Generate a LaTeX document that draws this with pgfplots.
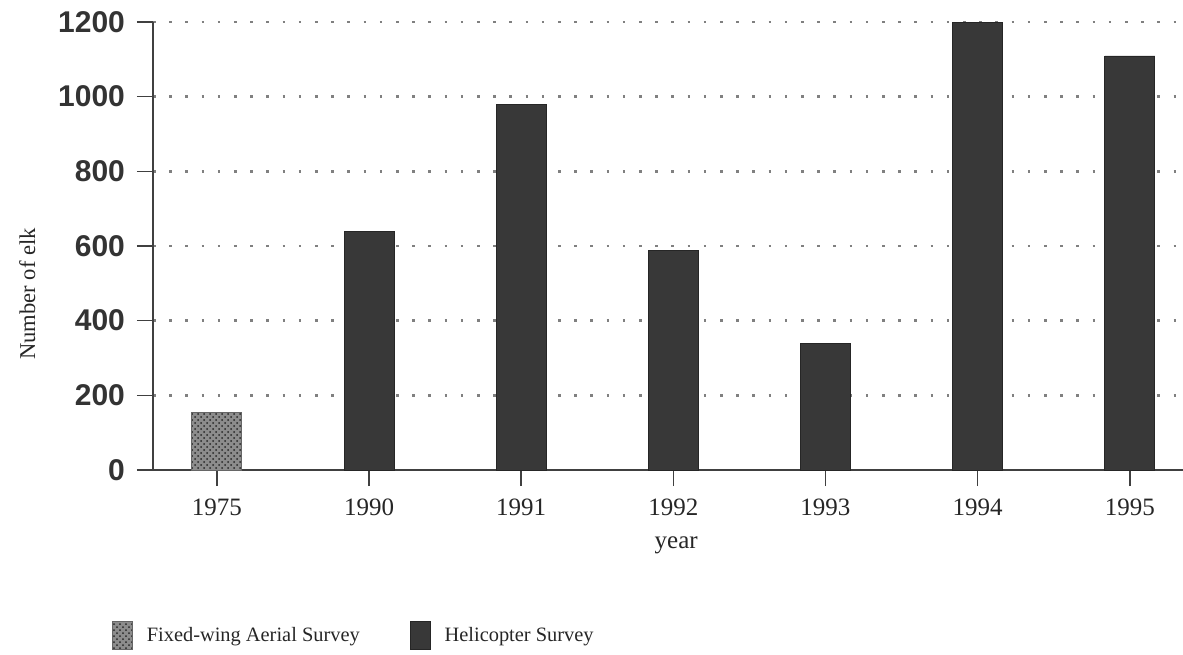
\documentclass[border=0pt]{standalone}
\usepackage{fontspec}
\setmainfont{Liberation Serif}
\newfontfamily\sansfont{Liberation Sans}
\usepackage{pgfplots}
\pgfplotsset{compat=1.18}
\usetikzlibrary{patterns}

\begin{document}
\begin{tikzpicture}
\path[use as bounding box] (-76.5pt,-92pt) rectangle (515pt,235pt);
\begin{axis}[
  scale only axis, width=515pt, height=224pt,
  at={(0,0)}, anchor=south west,
  ybar, bar width=25pt,
  xmin=-0.42, xmax=6.35, ymin=0, ymax=1200,
  xtick={0,...,6},
  xticklabels={1975,1990,1991,1992,1993,1994,1995},
  ytick={0,200,...,1200},
  /pgf/number format/assume math mode=true,
  /pgf/number format/1000 sep={},
  axis x line=bottom, axis y line=left,
  axis line style={-, black!75, line width=1pt},
  tick align=outside, major tick length=8pt,
  tick style={black!75, line width=0.8pt},
  ymajorgrids,
  grid style={black!50, line width=1.3pt, dash pattern=on 1.3pt off 6.8pt},
  yticklabel style={font=\sansfont\bfseries\fontsize{15}{17}\selectfont, text=black!80, xshift=-2.5pt},
  xticklabel style={font=\fontsize{12.5}{14}\selectfont, text=black!85, yshift=-3pt},
  xlabel={year},
  xlabel style={at={(axis description cs:0.508,-0.167)}, anchor=center, font=\fontsize{12.5}{14}\selectfont, text=black!85},
  ylabel={Number of elk},
  ylabel style={at={(axis description cs:-0.122,0.393)}, anchor=center, rotate=0, font=\fontsize{11.3}{13}\selectfont, text=black!85},
  legend style={at={(axis description cs:-0.046,-0.37)}, anchor=west, draw=none, fill=none,
    legend columns=2, font=\fontsize{10.2}{12}\selectfont, text=black!85,
    /tikz/every even column/.append style={column sep=23pt},
    /tikz/every odd column/.append style={column sep=5pt}},
  legend image code/.code={\path[#1] (0pt,-7pt) rectangle (10pt,7pt);},
]
\addplot[bar shift=0pt, fill=black!45, draw=black!60,
  postaction={pattern=crosshatch dots, pattern color=black!85}]
  coordinates {(0,155)};
\addlegendentry{Fixed-wing Aerial Survey}
\addplot[bar shift=0pt, fill=black!78, draw=black!85]
  coordinates {(1,640) (2,980) (3,587) (4,338) (5,1200) (6,1109)};
\addlegendentry{Helicopter Survey}
\end{axis}
\end{tikzpicture}
\end{document}
